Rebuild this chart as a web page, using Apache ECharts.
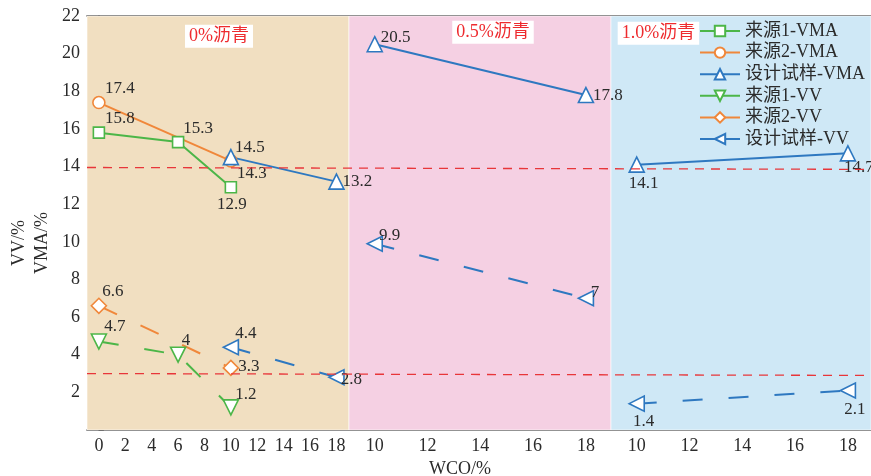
<!DOCTYPE html>
<html>
<head>
<meta charset="utf-8">
<script src="https://cdn.jsdelivr.net/npm/echarts@6/dist/echarts.min.js"></script>
<style>
  html, body { margin: 0; padding: 0; background: #fff; }
  #chart { width: 871px; height: 476px; }
</style>
</head>
<body>
<div id="chart"></div>
<script>
// x tick labels for each asphalt block
var segTicks = [
  [0, 2, 4, 6, 8, 10, 12, 14, 16, 18],
  [10, 12, 14, 16, 18],
  [10, 12, 14, 16, 18]
];
var segNames = ["0%沥青", "0.5%沥青", "1.0%沥青"];

// source 1 / source 2
var src1Wco = [0, 6, 10];
var src1VMA = [15.8, 15.3, 12.9];
var src1VV = [4.7, 4, 1.2];
var src2Wco = [0, 10];
var src2VMA = [17.4, 14.3];
var src2VV = [6.6, 3.3];

// design samples, one pair per block
var designSeg = [0, 0, 1, 1, 2, 2];
var designWco = [10, 18, 10, 18, 10, 18];
var designVMA = [14.5, 13.2, 20.5, 17.8, 14.1, 14.7];
var designVV = [4.4, 2.8, 9.9, 7, 1.4, 2.1];

// red reference lines (start, end)
var refVMA = [13.95, 13.85];
var refVV = [3.0, 2.9];

// ---- layout of the broken x axis ----
var segOffset = [0, 20.9, 40.75];
var segBase = [0, 10, 10];
var segScale = [1, 2, 2];
var segBounds = [-0.9, 18.95, 38.8, 58.5];
var segColors = ["#f1dfc1", "#f5d0e3", "#cfe8f6"];

function toU(seg, w) {
  return segOffset[seg] + (w - segBase[seg]) * segScale[seg];
}

var tickVals = [];
var tickText = {};
segTicks.forEach(function (arr, s) {
  arr.forEach(function (w) {
    var u = toU(s, w);
    tickVals.push(u);
    tickText[u.toFixed(2)] = String(w);
  });
});

var FONT = "'Liberation Serif', 'Noto Sans CJK SC', serif";
var GREEN = "#4cb648", ORANGE = "#f0873a", BLUE = "#2e78c0";

function mkSeries(name, color, symbol, size, rotate, dashed, segs, wcos, vals, offs) {
  var data = vals.map(function (v, i) {
    return {
      value: [toU(segs[i], wcos[i]), v],
      label: { offset: offs[i] }
    };
  });
  return {
    name: name,
    type: "line",
    data: data,
    symbol: symbol,
    symbolSize: size,
    symbolRotate: rotate,
    z: 3,
    lineStyle: { color: color, width: 2, type: dashed ? [20, 26] : "solid" },
    itemStyle: { color: "#fff", borderColor: color, borderWidth: 1.6 },
    label: {
      show: true,
      position: "inside",
      color: "#2b2b2b",
      fontFamily: FONT,
      fontSize: 17,
      formatter: function (p) { return String(p.value[1]); }
    }
  };
}

function zeros(n, s) { var a = []; for (var i = 0; i < n; i++) a.push(s); return a; }

var series = [];

// background blocks + reference lines
series.push({
  type: "line",
  data: [],
  silent: true,
  z: 1,
  markArea: {
    silent: true,
    data: segNames.map(function (nm, i) {
      var lbl = [
        { position: "insideTop", distance: 9, offset: [1, 0] },
        { position: "insideTop", distance: 5, offset: [13, 0] },
        { position: "insideTopLeft", distance: 6, offset: [1, 0] }
      ][i];
      return [
        {
          xAxis: segBounds[i],
          yAxis: 22,
          itemStyle: { color: segColors[i], borderColor: "#ffffff", borderWidth: 0.6 },
          label: {
            show: true,
            position: lbl.position,
            distance: lbl.distance,
            offset: lbl.offset,
            formatter: nm,
            color: "#ee2b2f",
            fontFamily: FONT,
            fontSize: 18,
            backgroundColor: "#ffffff",
            padding: [3, 4, 2, 4]
          }
        },
        { xAxis: segBounds[i + 1], yAxis: 0 }
      ];
    })
  },
  markLine: {
    silent: true,
    symbol: "none",
    label: { show: false },
    lineStyle: { color: "#e8363a", type: [9, 7], width: 1.3 },
    data: [
      [{ coord: [segBounds[0], refVMA[0]] }, { coord: [segBounds[3], refVMA[1]] }],
      [{ coord: [segBounds[0], refVV[0]] }, { coord: [segBounds[3], refVV[1]] }]
    ]
  }
});

series.push(mkSeries("来源1-VMA", GREEN, "rect", 11, 0, false,
  zeros(3, 0), src1Wco, src1VMA, [[21, -14], [20, -14], [1, 17]]));
series.push(mkSeries("来源2-VMA", ORANGE, "circle", 12, 0, false,
  zeros(2, 0), src2Wco, src2VMA, [[21, -14], [21, 13]]));

var dVMAoffs = [[19, -10], [21, 0], [21, -7], [22, 0], [7, 19], [11, 14]];
var dVVoffs = [[15, -14], [15, 2], [15, -8], [9, -6], [7, 18], [7, 19]];
for (var s = 0; s < 3; s++) {
  var idx = [2 * s, 2 * s + 1];
  var pick = function (arr) { return idx.map(function (i) { return arr[i]; }); };
  series.push(mkSeries("设计试样-VMA", BLUE, "triangle", 15, 0, false,
    pick(designSeg), pick(designWco), pick(designVMA), pick(dVMAoffs)));
}

series.push(mkSeries("来源1-VV", GREEN, "triangle", 15, 180, true,
  zeros(3, 0), src1Wco, src1VV, [[16, -15], [8, -14], [15, -13]]));
series.push(mkSeries("来源2-VV", ORANGE, "diamond", 15, 0, true,
  zeros(2, 0), src2Wco, src2VV, [[14, -14], [18, -1]]));

for (var t = 0; t < 3; t++) {
  var idx2 = [2 * t, 2 * t + 1];
  var pick2 = function (arr) { return idx2.map(function (i) { return arr[i]; }); };
  series.push(mkSeries("设计试样-VV", BLUE, "triangle", 15, 90, true,
    pick2(designSeg), pick2(designWco), pick2(designVV), pick2(dVVoffs)));
}

var chart = echarts.init(document.getElementById("chart"), null, { renderer: "canvas" });
chart.setOption({
  backgroundColor: "#ffffff",
  animation: false,
  textStyle: { fontFamily: FONT },
  grid: { left: 87, right: 0, top: 16, bottom: 46, containLabel: false, outerBoundsMode: "none" },
  legend: {
    orient: "vertical",
    left: 694,
    top: 17,
    itemWidth: 40,
    itemHeight: 13,
    itemGap: 3.6,
    lineStyle: { type: "solid" },
    textStyle: { fontFamily: FONT, fontSize: 18, color: "#2b2b2b", lineHeight: 18 },
    data: ["来源1-VMA", "来源2-VMA", "设计试样-VMA", "来源1-VV", "来源2-VV", "设计试样-VV"]
  },
  xAxis: [
    {
      type: "value",
      min: segBounds[0],
      max: segBounds[3],
      name: "WCO/%",
      nameLocation: "middle",
      nameGap: 27,
      nameTextStyle: { fontFamily: FONT, fontSize: 18, color: "#2b2b2b", padding: [0, 38, 0, 0] },
      splitLine: { show: false },
      axisLine: { lineStyle: { color: "#333", width: 1.5 } },
      axisTick: { inside: true, length: 5, customValues: tickVals, lineStyle: { color: "#333" } },
      axisLabel: {
        customValues: tickVals,
        margin: 7,
        fontFamily: FONT,
        fontSize: 18,
        color: "#2b2b2b",
        formatter: function (v) { return tickText[Number(v).toFixed(2)] || ""; }
      }
    },
    {
      type: "value",
      position: "top",
      min: segBounds[0],
      max: segBounds[3],
      splitLine: { show: false },
      axisTick: { show: false },
      axisLabel: { show: false },
      axisLine: { show: true, lineStyle: { color: "#333", width: 1.5 } }
    }
  ],
  yAxis: {
    type: "value",
    min: 0,
    max: 22,
    interval: 2,
    name: "VV/%\nVMA/%",
    nameLocation: "middle",
    nameRotate: 90,
    nameGap: 33,
    nameMoveOverlap: false,
    nameTextStyle: { fontFamily: FONT, fontSize: 18, color: "#2b2b2b", lineHeight: 23, padding: [0, 40, 0, 0] },
    splitLine: { show: false },
    axisLine: { show: true, lineStyle: { color: "#333", width: 1.5 } },
    axisTick: { show: true, inside: true, length: 5, lineStyle: { color: "#333" } },
    axisLabel: {
      margin: 7,
      fontFamily: FONT,
      fontSize: 18,
      color: "#2b2b2b",
      formatter: function (v) { return v === 0 ? "" : String(v); }
    }
  },
  series: series
});
</script>
</body>
</html>
